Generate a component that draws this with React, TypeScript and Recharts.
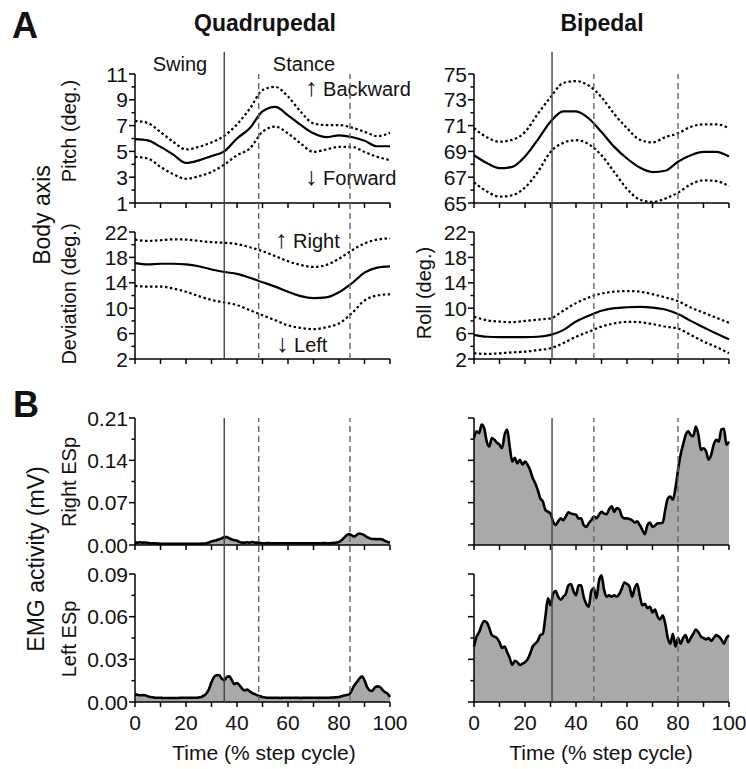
import { ComposedChart, LineChart, Line, Area, XAxis, YAxis, ReferenceLine } from "recharts";

const FONT = '"Liberation Sans", Arial, Helvetica, sans-serif';

// step-cycle events (% cycle): solid = swing/stance transition, dashed = other events
const quadSolid = 35;
const quadDashed = [48.5, 84.3];
const bipSolid = 30.6;
const bipDashed = [47, 80];

// body axis curves, every 5 % of the step cycle
const bodyTime = [0, 5, 10, 15, 20, 25, 30, 35, 40, 45, 50, 55, 60, 65, 70, 75, 80, 85, 90, 95, 100];

const quadPitchMean = [5.95, 5.85, 5.35, 4.75, 4.1, 4.3, 4.65, 5.0, 6.0, 6.8, 8.1, 8.45, 7.8, 7.05, 6.4, 6.1, 6.25, 6.12, 5.82, 5.4, 5.4];
const quadPitchHi = [7.37, 7.2, 6.5, 5.74, 5.15, 5.35, 5.7, 6.2, 7.1, 8.3, 9.75, 10.0, 9.25, 8.07, 7.17, 7.04, 7.04, 6.85, 6.52, 6.18, 6.44];
const quadPitchLo = [4.58, 4.45, 3.8, 3.23, 2.88, 3.07, 3.41, 3.98, 4.7, 5.22, 6.52, 6.92, 6.39, 5.61, 4.96, 5.15, 5.35, 5.35, 4.96, 4.58, 4.32];

const quadDevMean = [17.1, 16.9, 17.0, 17.0, 16.9, 16.6, 16.1, 15.7, 15.4, 14.8, 14.1, 13.4, 12.6, 11.9, 11.6, 11.7, 12.5, 13.9, 15.6, 16.4, 16.6];
const quadDevHi = [20.8, 20.6, 20.7, 20.85, 20.8, 20.6, 20.4, 20.3, 20.1, 19.6, 19.0, 18.2, 17.4, 16.8, 16.5, 16.8, 17.8, 19.1, 20.2, 20.8, 21.0];
const quadDevLo = [13.5, 13.4, 13.4, 13.1, 12.6, 11.9, 11.3, 10.9, 10.5, 9.7, 8.9, 8.1, 7.3, 6.9, 6.7, 7.0, 7.6, 9.2, 11.2, 12.0, 12.2];

const bipPitchMean = [68.7, 68.1, 67.7, 67.8, 68.6, 69.9, 71.3, 72.1, 72.1, 71.55, 70.5, 69.35, 68.45, 67.75, 67.4, 67.5, 68.2, 68.7, 68.96, 68.96, 68.6];
const bipPitchHi = [70.8, 70.1, 69.75, 69.9, 70.5, 71.9, 73.2, 74.3, 74.45, 74.1, 73.2, 71.9, 70.8, 69.9, 69.7, 70.1, 70.4, 70.9, 71.1, 71.1, 70.8];
const bipPitchLo = [66.6, 65.9, 65.5, 65.6, 66.2, 67.4, 68.96, 69.66, 69.87, 69.56, 68.7, 67.4, 66.1, 65.26, 65.08, 65.34, 65.8, 66.45, 66.76, 66.7, 66.3];

const bipRollMean = [5.8, 5.5, 5.45, 5.45, 5.45, 5.5, 5.8, 6.55, 7.9, 8.8, 9.6, 10.0, 10.15, 10.2, 10.1, 9.8, 9.1, 8.0, 7.0, 6.0, 5.1];
const bipRollHi = [8.65, 8.1, 7.9, 7.8, 8.0, 8.2, 8.4, 9.6, 10.8, 11.7, 12.3, 12.6, 12.7, 12.6, 12.2, 11.7, 11.1, 10.1, 9.3, 8.5, 7.7];
const bipRollLo = [2.9, 2.8, 2.9, 3.05, 3.15, 3.4, 3.7, 4.5, 5.5, 6.3, 7.1, 7.6, 7.85, 7.8, 7.5, 7.1, 6.8, 5.8, 4.75, 3.9, 2.9];

// EMG envelopes, every 1 % of the step cycle
const emgTime = [
  0, 1, 2, 3, 4, 5, 6, 7, 8, 9, 10, 11, 12, 13, 14, 15, 16, 17, 18, 19,
  20, 21, 22, 23, 24, 25, 26, 27, 28, 29, 30, 31, 32, 33, 34, 35, 36, 37, 38, 39,
  40, 41, 42, 43, 44, 45, 46, 47, 48, 49, 50, 51, 52, 53, 54, 55, 56, 57, 58, 59,
  60, 61, 62, 63, 64, 65, 66, 67, 68, 69, 70, 71, 72, 73, 74, 75, 76, 77, 78, 79,
  80, 81, 82, 83, 84, 85, 86, 87, 88, 89, 90, 91, 92, 93, 94, 95, 96, 97, 98, 99, 100,
];

const quadRightEsp = [
  0.004, 0.004, 0.0045, 0.004, 0.0042, 0.0035, 0.003, 0.003, 0.0028, 0.0025,
  0.0022, 0.002, 0.0021, 0.002, 0.002, 0.0019, 0.002, 0.002, 0.0021, 0.002,
  0.002, 0.002, 0.002, 0.0021, 0.002, 0.002, 0.0022, 0.0025, 0.003, 0.004,
  0.006, 0.007, 0.008, 0.0095, 0.011, 0.013, 0.013, 0.011, 0.009, 0.008,
  0.007, 0.005, 0.004, 0.004, 0.0045, 0.004, 0.005, 0.004, 0.004, 0.0035,
  0.003, 0.003, 0.0032, 0.003, 0.003, 0.0028, 0.003, 0.003, 0.0029, 0.003,
  0.003, 0.003, 0.0028, 0.003, 0.003, 0.003, 0.0029, 0.003, 0.003, 0.003,
  0.003, 0.003, 0.003, 0.003, 0.0031, 0.003, 0.003, 0.0032, 0.0035, 0.004,
  0.005, 0.008, 0.012, 0.016, 0.018, 0.016, 0.014, 0.017, 0.019, 0.018,
  0.016, 0.013, 0.011, 0.01, 0.01, 0.0095, 0.01, 0.009, 0.007, 0.005, 0.004,
];

const quadLeftEsp = [
  0.0054, 0.005, 0.0047, 0.0048, 0.0047, 0.004, 0.0035, 0.0033, 0.003, 0.003,
  0.003, 0.0028, 0.0028, 0.0028, 0.0028, 0.0028, 0.0028, 0.0028, 0.003, 0.003,
  0.003, 0.003, 0.003, 0.003, 0.003, 0.0032, 0.0035, 0.0045, 0.006, 0.009,
  0.014, 0.0176, 0.0188, 0.0188, 0.0165, 0.0153, 0.0176, 0.018, 0.0153, 0.0125,
  0.0134, 0.0117, 0.0094, 0.0082, 0.0087, 0.0075, 0.0063, 0.0055, 0.0047, 0.004,
  0.0035, 0.0032, 0.003, 0.003, 0.0029, 0.003, 0.003, 0.0028, 0.003, 0.003,
  0.003, 0.0029, 0.003, 0.003, 0.003, 0.0028, 0.003, 0.003, 0.003, 0.003,
  0.003, 0.003, 0.0029, 0.003, 0.003, 0.003, 0.003, 0.0031, 0.0032, 0.0033,
  0.0035, 0.004, 0.0045, 0.005, 0.0054, 0.0082, 0.0117, 0.014, 0.0165, 0.018,
  0.0153, 0.0106, 0.0082, 0.0078, 0.0101, 0.011, 0.0106, 0.0087, 0.007, 0.0059, 0.0035,
];

const bipRightEsp = [
  0.177, 0.188, 0.185, 0.199, 0.193, 0.171, 0.163, 0.177, 0.174, 0.169,
  0.166, 0.16, 0.182, 0.191, 0.163, 0.138, 0.144, 0.135, 0.141, 0.133,
  0.138, 0.133, 0.124, 0.111, 0.102, 0.091, 0.077, 0.072, 0.058, 0.055,
  0.052, 0.039, 0.033, 0.039, 0.044, 0.041, 0.047, 0.054, 0.052, 0.051,
  0.05, 0.044, 0.044, 0.033, 0.03, 0.036, 0.041, 0.047, 0.044, 0.05,
  0.055, 0.052, 0.051, 0.059, 0.064, 0.055, 0.061, 0.059, 0.047, 0.044,
  0.044, 0.043, 0.041, 0.037, 0.039, 0.033, 0.025, 0.018, 0.033, 0.037,
  0.03, 0.032, 0.036, 0.036, 0.037, 0.058, 0.077, 0.08, 0.075, 0.094,
  0.124, 0.149, 0.166, 0.182, 0.188, 0.182, 0.18, 0.196, 0.182, 0.157,
  0.16, 0.155, 0.141, 0.149, 0.166, 0.174, 0.171, 0.191, 0.192, 0.166, 0.171,
];

const bipLeftEsp = [
  0.039, 0.046, 0.049, 0.054, 0.057, 0.056, 0.052, 0.047, 0.046, 0.045,
  0.042, 0.038, 0.039, 0.035, 0.031, 0.026, 0.029, 0.028, 0.026, 0.027,
  0.028, 0.03, 0.034, 0.039, 0.041, 0.043, 0.047, 0.048, 0.06, 0.073,
  0.068, 0.076, 0.078, 0.074, 0.072, 0.074, 0.076, 0.082, 0.083, 0.078,
  0.075, 0.082, 0.082, 0.074, 0.069, 0.067, 0.078, 0.08, 0.073, 0.085,
  0.089, 0.079, 0.074, 0.075, 0.074, 0.075, 0.074, 0.076, 0.08, 0.084,
  0.083, 0.081, 0.074, 0.08, 0.083, 0.075, 0.068, 0.069, 0.066, 0.067,
  0.063, 0.065, 0.06, 0.058, 0.061, 0.055, 0.045, 0.041, 0.048, 0.039,
  0.045, 0.041, 0.045, 0.047, 0.042, 0.045, 0.048, 0.051, 0.049, 0.046,
  0.045, 0.044, 0.045, 0.043, 0.045, 0.047, 0.046, 0.044, 0.041, 0.045, 0.047,
];

// axis ticks
const xTicks = [0, 10, 20, 30, 40, 50, 60, 70, 80, 90, 100];
const quadPitchTicks = [1, 2, 3, 4, 5, 6, 7, 8, 9, 10, 11];
const bipPitchTicks = [65, 66, 67, 68, 69, 70, 71, 72, 73, 74, 75];
const degTicks = [2, 4, 6, 8, 10, 12, 14, 16, 18, 20, 22];
const rightEspTicks = [0, 0.035, 0.07, 0.105, 0.14, 0.175, 0.21];
const leftEspTicks = [0, 0.015, 0.03, 0.045, 0.06, 0.075, 0.09];

const bodyRows = (mean: number[], hi: number[], lo: number[]) =>
  bodyTime.map((t, i) => ({ t, mean: mean[i], hi: hi[i], lo: lo[i] }));
const emgRows = (v: number[]) => emgTime.map((t, i) => ({ t, v: v[i] }));

const Y_W = 80;
const PLOT_W = 255;
const R_PAD = 26;
const T_PAD = 12;
const axisStyle = { stroke: "#000", strokeWidth: 1.5 };

function XTick(props: any) {
  const { x, y, payload, showLabel } = props;
  const v = payload.value;
  return (
    <g>
      <line x1={x} x2={x} y1={y} y2={y + 5} stroke="#000" strokeWidth={1.5} />
      {showLabel && v % 20 === 0 && (
        <text x={x} y={y + 28} textAnchor="middle" fontSize={21} fontFamily={FONT} fill="#111">
          {v}
        </text>
      )}
    </g>
  );
}

function YTick(props: any) {
  const { x, y, payload, index, showLabel, fmt } = props;
  const major = index % 2 === 0;
  return (
    <g>
      <line x1={x - (major ? 6 : 3.5)} x2={x} y1={y} y2={y} stroke="#000" strokeWidth={1.5} />
      {showLabel && major && (
        <text x={x - 7} y={y} dy="0.36em" textAnchor="end" fontSize={21} fontFamily={FONT} fill="#111">
          {fmt(payload.value)}
        </text>
      )}
    </g>
  );
}

function Panel({
  left,
  top,
  height,
  rows,
  domain,
  ticks,
  kind,
  yLabels = true,
  xLabels = false,
  fmt = (v: number) => String(v),
}: {
  left: number;
  top: number;
  height: number;
  rows: any[];
  domain: [number, number];
  ticks: number[];
  kind: "body" | "emg";
  yLabels?: boolean;
  xLabels?: boolean;
  fmt?: (v: number) => string;
}) {
  const xH = xLabels ? 40 : 16;
  return (
    <div style={{ position: "absolute", left: left - Y_W, top: top - T_PAD }}>
      <ComposedChart
        width={Y_W + PLOT_W + R_PAD}
        height={T_PAD + height + xH}
        data={rows}
        margin={{ top: T_PAD, right: R_PAD, bottom: 0, left: 0 }}
      >
        <XAxis
          dataKey="t"
          type="number"
          domain={[0, 100]}
          ticks={xTicks}
          interval={0}
          height={xH}
          tickSize={0}
          tickMargin={0}
          tickLine={false}
          axisLine={axisStyle}
          tick={(p: any) => <XTick {...p} showLabel={xLabels} />}
        />
        <YAxis
          type="number"
          domain={domain}
          ticks={ticks}
          interval={0}
          width={Y_W}
          tickSize={0}
          tickMargin={0}
          tickLine={false}
          axisLine={axisStyle}
          allowDataOverflow
          tick={(p: any) => <YTick {...p} showLabel={yLabels} fmt={fmt} />}
        />
        {kind === "emg" && (
          <Area
            type="monotone"
            dataKey="v"
            stroke="#000"
            strokeWidth={2.6}
            strokeLinejoin="round"
            fill="#a9a9a9"
            fillOpacity={1}
            isAnimationActive={false}
          />
        )}
        {kind === "body" && (
          <Line type="monotone" dataKey="hi" stroke="#000" strokeWidth={2.2} strokeDasharray="2.5 2.5" dot={false} isAnimationActive={false} />
        )}
        {kind === "body" && (
          <Line type="monotone" dataKey="lo" stroke="#000" strokeWidth={2.2} strokeDasharray="2.5 2.5" dot={false} isAnimationActive={false} />
        )}
        {kind === "body" && (
          <Line type="monotone" dataKey="mean" stroke="#000" strokeWidth={2.2} dot={false} isAnimationActive={false} />
        )}
      </ComposedChart>
    </div>
  );
}

const frame = [
  { t: 0, v: 0 },
  { t: 100, v: 1 },
];

function EventLines({ left, top, height, solid, dashed }: { left: number; top: number; height: number; solid?: number; dashed: number[] }) {
  return (
    <div style={{ position: "absolute", left, top }}>
      <LineChart width={PLOT_W} height={height} data={frame} margin={{ top: 0, right: 0, bottom: 0, left: 0 }}>
        <XAxis dataKey="t" type="number" domain={[0, 100]} hide />
        <YAxis type="number" domain={[0, 1]} hide />
        <Line dataKey="v" stroke="none" dot={false} isAnimationActive={false} />
        {solid !== undefined && <ReferenceLine x={solid} stroke="#444" strokeWidth={1.4} />}
        {dashed.map((d) => (
          <ReferenceLine key={d} x={d} stroke="#666" strokeWidth={1.4} strokeDasharray="6 4" />
        ))}
      </LineChart>
    </div>
  );
}

const fmt2 = (v: number) => v.toFixed(2);

function Arrow({ up }: { up: boolean }) {
  return <tspan fontSize={25}>{up ? "↑" : "↓"}</tspan>;
}

export default function App() {
  const L = 135;
  const R = 474;
  return (
    <div style={{ position: "absolute", left: 0, top: 0, width: 746, height: 769, background: "#fff", fontFamily: FONT }}>
      <svg width={746} height={769} style={{ position: "absolute", left: 0, top: 0 }}>
        <g fontFamily={FONT} fill="#111">
          <text x={12} y={38} fontSize={36} fontWeight="bold">A</text>
          <text x={13} y={417} fontSize={36} fontWeight="bold">B</text>
          <text x={265} y={31} fontSize={23} fontWeight="bold" textAnchor="middle">Quadrupedal</text>
          <text x={602} y={31} fontSize={23} fontWeight="bold" textAnchor="middle">Bipedal</text>
          <text x={180} y={71} fontSize={20} textAnchor="middle">Swing</text>
          <text x={304} y={71} fontSize={20} textAnchor="middle">Stance</text>
          <text x={305} y={96} fontSize={20}><Arrow up /> Backward</text>
          <text x={305} y={185} fontSize={20}><Arrow up={false} /> Forward</text>
          <text x={275} y={248} fontSize={20}><Arrow up /> Right</text>
          <text x={276} y={352} fontSize={20}><Arrow up={false} /> Left</text>
          <text transform="translate(42,215) rotate(-90)" fontSize={23} textAnchor="middle" dominantBaseline="central">Body axis</text>
          <text transform="translate(36,559) rotate(-90)" fontSize={23} textAnchor="middle" dominantBaseline="central">EMG activity (mV)</text>
          <text transform="translate(69,131) rotate(-90)" fontSize={20} textAnchor="middle" dominantBaseline="central">Pitch (deg.)</text>
          <text transform="translate(69,294) rotate(-90)" fontSize={20} textAnchor="middle" dominantBaseline="central">Deviation (deg.)</text>
          <text transform="translate(424,293) rotate(-90)" fontSize={20} textAnchor="middle" dominantBaseline="central">Roll (deg.)</text>
          <text transform="translate(69,482) rotate(-90)" fontSize={20} textAnchor="middle" dominantBaseline="central">Right ESp</text>
          <text transform="translate(69,639) rotate(-90)" fontSize={20} textAnchor="middle" dominantBaseline="central">Left ESp</text>
          <text x={264} y={760} fontSize={21} textAnchor="middle">Time (% step cycle)</text>
          <text x={601} y={760} fontSize={21} textAnchor="middle">Time (% step cycle)</text>
        </g>
      </svg>

      <Panel left={L} top={74} height={129} rows={bodyRows(quadPitchMean, quadPitchHi, quadPitchLo)} domain={[1, 11]} ticks={quadPitchTicks} kind="body" />
      <Panel left={L} top={232} height={127} rows={bodyRows(quadDevMean, quadDevHi, quadDevLo)} domain={[2, 22]} ticks={degTicks} kind="body" />
      <Panel left={L} top={418} height={127} rows={emgRows(quadRightEsp)} domain={[0, 0.21]} ticks={rightEspTicks} kind="emg" fmt={fmt2} />
      <Panel left={L} top={574} height={128} rows={emgRows(quadLeftEsp)} domain={[0, 0.09]} ticks={leftEspTicks} kind="emg" fmt={fmt2} xLabels />

      <Panel left={R} top={74} height={129} rows={bodyRows(bipPitchMean, bipPitchHi, bipPitchLo)} domain={[65, 75]} ticks={bipPitchTicks} kind="body" />
      <Panel left={R} top={232} height={127} rows={bodyRows(bipRollMean, bipRollHi, bipRollLo)} domain={[2, 22]} ticks={degTicks} kind="body" />
      <Panel left={R} top={418} height={127} rows={emgRows(bipRightEsp)} domain={[0, 0.21]} ticks={rightEspTicks} kind="emg" yLabels={false} />
      <Panel left={R} top={574} height={128} rows={emgRows(bipLeftEsp)} domain={[0, 0.09]} ticks={leftEspTicks} kind="emg" yLabels={false} xLabels />

      <EventLines left={L} top={52} height={307} solid={quadSolid} dashed={[]} />
      <EventLines left={L} top={74} height={285} dashed={quadDashed} />
      <EventLines left={L} top={418} height={284} solid={quadSolid} dashed={quadDashed} />
      <EventLines left={R} top={52} height={307} solid={bipSolid} dashed={[]} />
      <EventLines left={R} top={74} height={285} dashed={bipDashed} />
      <EventLines left={R} top={418} height={284} solid={bipSolid} dashed={bipDashed} />
    </div>
  );
}
